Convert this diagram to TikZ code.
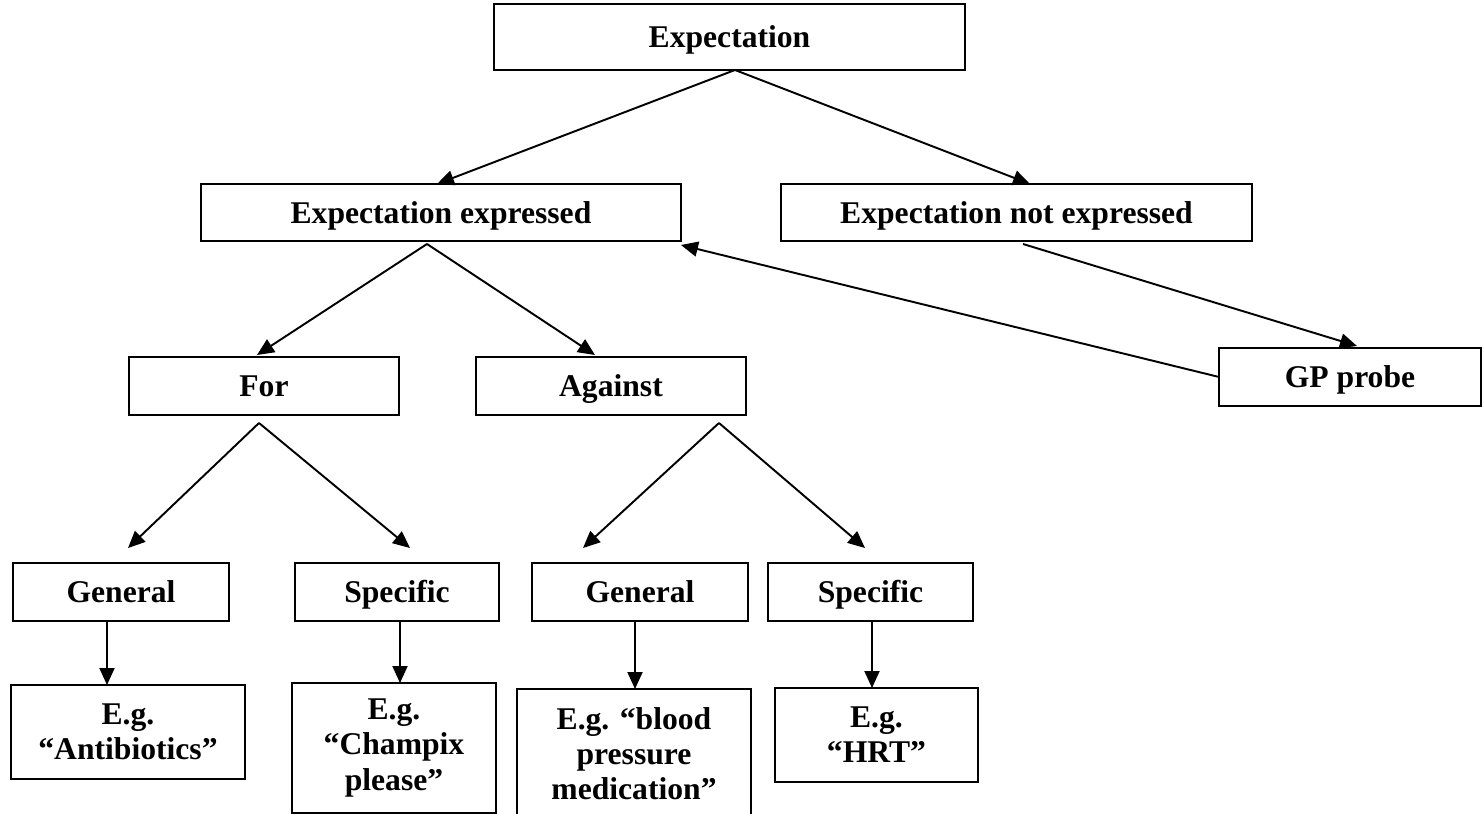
\documentclass[tikz,border=0pt]{standalone}
\usepackage{fontspec}
\setmainfont{Liberation Serif}
\usetikzlibrary{arrows.meta}

\begin{document}
\begin{tikzpicture}[x=0.02cm, y=-0.02cm, line width=1.1pt, >={Triangle[length=0.34cm,width=0.3cm]},
                    box/.style={draw, outer sep=0pt, inner sep=2pt,
                                font=\fontsize{18}{20}\selectfont\bfseries},
                    onebox/.style={box, text height=12pt, text depth=0pt},
                    exbox/.style={box, align=center}]
                    \useasboundingbox (0,0) rectangle (1482,814);
                    % top level
                    \node[onebox, minimum width=9.42cm, minimum height=1.32cm] (exp) at (729.5,37) {Expectation};
                    \node[onebox, minimum width=9.6cm, minimum height=1.14cm] (expr) at (441,212.5) {Expectation expressed};
                    \node[onebox, minimum width=9.42cm, minimum height=1.14cm] (nexp) at (1016.5,212.5) {Expectation not expressed};
                    \node[onebox, minimum width=5.24cm, minimum height=1.16cm] (gp) at (1350,377) {GP probe};
                    % for / against
                    \node[onebox, minimum width=5.4cm, minimum height=1.16cm] (for) at (264,386) {For};
                    \node[onebox, minimum width=5.4cm, minimum height=1.16cm] (against) at (611,386) {Against};
                    % general / specific
                    \node[onebox, minimum width=4.32cm, minimum height=1.16cm] (gen1) at (121,592) {General};
                    \node[onebox, minimum width=4.08cm, minimum height=1.16cm] (spec1) at (397,592) {Specific};
                    \node[onebox, minimum width=4.32cm, minimum height=1.16cm] (gen2) at (640,592) {General};
                    \node[onebox, minimum width=4.1cm, minimum height=1.16cm] (spec2) at (870.5,592) {Specific};
                    % examples
                    \node[exbox, minimum width=4.68cm, minimum height=1.88cm] (eg1) at (128,732) {E.g.\\“Antibiotics”};
                    \node[exbox, minimum width=4.08cm, minimum height=2.6cm] (eg2) at (394,748) {E.g.\\“Champix\\please”};
                    \node[exbox, minimum width=4.68cm, minimum height=2.6cm] (eg3) at (634,754) {E.g. “blood\\pressure\\medication”};
                    \node[exbox, minimum width=4.06cm, minimum height=1.88cm] (eg4) at (876.5,735) {E.g.\\“HRT”};
                    % connectors
                    \draw[->] ([xshift=0.11cm]exp.south) -- ([xshift=-0.08cm]expr.north);
                    \draw[->] ([xshift=0.11cm]exp.south) -- ([xshift=0.27cm]nexp.north);
                    \draw[->] ([xshift=-0.28cm,yshift=-0.06cm]expr.south) -- ([xshift=-0.14cm,yshift=0.04cm]for.north);
                    \draw[->] ([xshift=-0.28cm,yshift=-0.06cm]expr.south) -- ([xshift=-0.32cm,yshift=0.04cm]against.north);
                    \draw[->] ([xshift=0.13cm,yshift=-0.06cm]nexp.south) -- ([xshift=0.14cm,yshift=0.04cm]gp.north);
                    \draw[->] (gp.west) -- ([yshift=-0.08cm]expr.south east);
                    \draw[->] ([xshift=-0.1cm,yshift=-0.16cm]for.south) -- ([xshift=0.14cm,yshift=0.3cm]gen1.north);
                    \draw[->] ([xshift=-0.1cm,yshift=-0.16cm]for.south) -- ([xshift=0.26cm,yshift=0.3cm]spec1.north);
                    \draw[->] ([xshift=-0.54cm,yshift=-0.16cm]against.south east) -- ([xshift=-1.14cm,yshift=0.3cm]gen2.north);
                    \draw[->] ([xshift=-0.54cm,yshift=-0.16cm]against.south east) -- ([xshift=-0.11cm,yshift=0.3cm]spec2.north);
                    \draw[->] ([xshift=-0.28cm]gen1.south) -- ([xshift=-0.28cm]gen1.south |- eg1.north);
                    \draw[->] ([xshift=0.06cm]spec1.south) -- ([xshift=0.06cm]spec1.south |- eg2.north);
                    \draw[->] ([xshift=-0.1cm]gen2.south) -- ([xshift=-0.1cm]gen2.south |- eg3.north);
                    \draw[->] ([xshift=0.03cm]spec2.south) -- ([xshift=0.03cm]spec2.south |- eg4.north);
                \end{tikzpicture}
\end{document}
